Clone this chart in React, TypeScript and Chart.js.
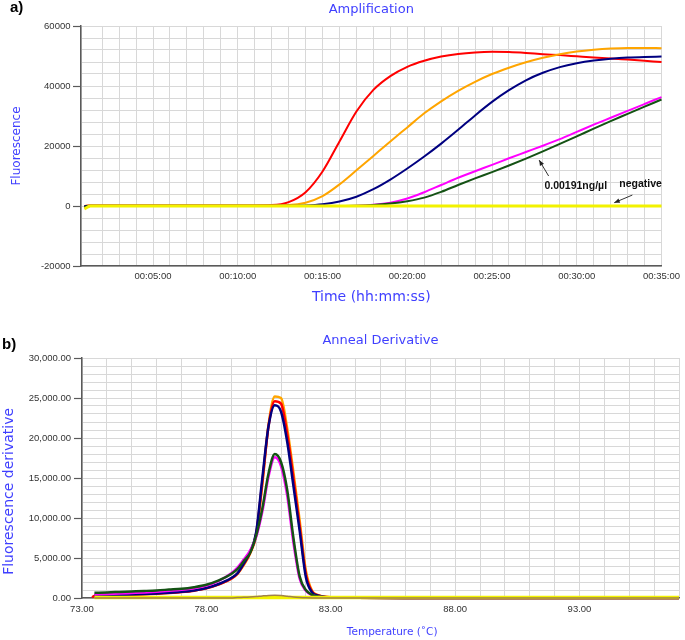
import React, { useEffect, useRef } from 'react';
import { Chart, registerables } from 'chart.js';

Chart.register(...registerables);

// ---------- Panel a) Amplification ----------
const ampTimes = [0.95, 1.3, 2, 3, 4, 5, 6, 7, 8, 9, 10, 11, 12, 13, 14, 15, 16, 17, 18, 19, 20, 21, 22, 23, 24, 25, 26, 27, 28, 29, 30, 31, 32, 33, 34, 35];

const ampRed = [0, 200, 200, 200, 200, 200, 200, 200, 200, 200, 200, 200, 300, 1300, 4600, 11500, 21500, 31500, 38700, 43300, 46400, 48400, 49800, 50700, 51200, 51400, 51300, 51000, 50600, 50300, 49900, 49500, 49200, 48800, 48400, 48000];
const ampOrange = [0, 200, 200, 200, 200, 200, 200, 200, 200, 200, 200, 200, 200, 300, 1100, 3300, 7200, 11900, 16700, 21500, 26200, 30900, 34900, 38400, 41400, 44000, 46100, 47900, 49400, 50600, 51500, 52100, 52500, 52700, 52700, 52600];
const ampNavy = [0, 100, 100, 100, 100, 100, 100, 100, 100, 100, 100, 100, 100, 100, 200, 600, 1500, 3100, 5600, 8800, 12500, 16500, 20800, 25400, 30200, 34700, 38600, 41900, 44400, 46300, 47600, 48500, 49100, 49500, 49700, 49800];
const ampMagenta = [-600, 0, 0, 0, 0, 0, 0, 0, 0, 0, 0, 0, 0, 0, 0, 0, 0, 100, 400, 1100, 2500, 4600, 7000, 9400, 11600, 13700, 15900, 18000, 20100, 22300, 24700, 27100, 29400, 31700, 34000, 36300];
const ampGreen = [-300, 0, 0, 0, 0, 0, 0, 0, 0, 0, 0, 0, 0, 0, 0, 0, 0, 50, 300, 800, 1600, 2800, 4700, 7000, 9200, 11300, 13500, 15800, 18200, 20700, 23200, 25800, 28300, 30700, 33100, 35500];
const ampNegative = [-1000, 0, 0, 0, 0, 0, 0, 0, 0, 0, 0, 0, 0, 0, 0, 0, 0, 0, 0, 0, 0, 0, 0, 0, 0, 0, 0, 0, 0, 0, 0, 0, 0, 0, 0, 0];

const ampNoteTexts = ['0.00191ng/µl', 'negative'];
const ampNoteTextAt = [[29.94, 6700], [33.77, 7300]];
const ampNoteArrowTail = [[28.34, 10000], [33.28, 3650]];
const ampNoteArrowHead = [[27.78, 15300], [32.21, 1100]];

// ---------- Panel b) Anneal Derivative ----------
const meltTemps = [73.4, 73.5, 74, 74.5, 75, 75.5, 76, 76.5, 77, 77.5, 78, 78.5, 79, 79.25, 79.5, 79.75, 80, 80.25, 80.5, 80.75, 81, 81.25, 81.5, 81.75, 82, 82.25, 82.5, 83, 84, 86, 88, 90, 92, 94, 96, 97];

const meltNavy = [null, 300, 340, 380, 430, 490, 560, 650, 770, 950, 1250, 1750, 2500, 3100, 4300, 5700, 8200, 15000, 21500, 24100, 23300, 19500, 14000, 8400, 2600, 700, 300, 80, 30, 0, 0, 0, 0, 0, 0, 0];
const meltOrange = [null, 300, 340, 380, 430, 490, 560, 650, 770, 950, 1250, 1700, 2400, 3000, 4100, 5500, 7800, 14200, 21700, 25200, 25000, 21200, 15700, 9700, 3400, 900, 350, 100, 30, 0, 0, 0, 0, 0, 0, 0];
const meltRed = [100, 250, 300, 350, 400, 460, 530, 620, 740, 920, 1200, 1700, 2400, 3050, 4200, 5600, 8000, 14500, 21500, 24600, 24300, 20500, 15000, 9000, 3000, 800, 320, 90, 30, 0, 0, 0, 0, 0, 0, 0];
const meltGreen = [null, 650, 700, 760, 820, 880, 950, 1050, 1150, 1350, 1650, 2200, 3000, 3600, 4600, 5600, 7800, 11200, 15600, 18000, 17000, 13500, 7500, 2700, 1000, 400, 200, 60, 20, 0, 0, 0, 0, 0, 0, 0];
const meltMagenta = [null, 450, 500, 560, 630, 700, 790, 900, 1030, 1230, 1550, 2150, 3100, 3800, 4800, 5900, 7600, 10800, 15200, 17600, 16500, 12800, 6900, 2400, 900, 350, 150, 50, 20, 0, 0, 0, 0, 0, 0, 0];
const meltNegative = [null, 60, 60, 60, 60, 60, 60, 60, 60, 60, 60, 60, 60, 60, 60, 60, 60, 60, 60, 60, 60, 60, 60, 60, 60, 60, 60, 60, 60, 60, 60, 60, 60, 60, 60, 60];
const meltNegative2 = [null, 0, 0, 0, 0, 0, 0, 0, 0, 0, 0, 0, 0, 50, 80, 120, 180, 260, 320, 330, 300, 220, 120, 60, 20, 0, 0, 0, 0, 0, 0, 0, 0, 0, 0, 0];

// ---------- styles ----------
const BLUE = '#3f3fff';
const GRID = '#d8d8d8';
const AXIS = '#5a5a5a';
const TICK_TXT = '#333333';
const tickFont = { family: "'Liberation Sans', Arial, sans-serif", size: 9.5 };
const dejavu = "'DejaVu Sans', Verdana, sans-serif";
const NB = '\u00A0';

function pts(xs: number[], ys: (number | null)[]) {
  const out: { x: number; y: number }[] = [];
  xs.forEach((x, i) => {
    const y = ys[i];
    if (y !== null && y !== undefined) out.push({ x, y });
  });
  return out;
}

function ds(label: string, xs: number[], ys: (number | null)[], color: string, width: number, extra: any = {}) {
  return {
    label,
    data: pts(xs, ys),
    borderColor: color,
    backgroundColor: color,
    borderWidth: width,
    pointRadius: 0,
    fill: false,
    cubicInterpolationMode: 'monotone',
    clip: false,
    ...extra,
  };
}

const majorTick = (step: number) => (ctx: any) =>
  ctx.tick && Math.abs(ctx.tick.value % step) < 1e-6 ? AXIS : 'rgba(0,0,0,0)';

const notePlugin = {
  id: 'ampNotes',
  afterDatasetsDraw(chart: any) {
    const { ctx } = chart;
    const xs = chart.scales.x;
    const ys = chart.scales.y;
    ctx.save();
    ampNoteTexts.forEach((text, i) => {
      const tx = xs.getPixelForValue(ampNoteArrowTail[i][0]);
      const ty = ys.getPixelForValue(ampNoteArrowTail[i][1]);
      const hx = xs.getPixelForValue(ampNoteArrowHead[i][0]);
      const hy = ys.getPixelForValue(ampNoteArrowHead[i][1]);
      ctx.strokeStyle = '#333';
      ctx.fillStyle = '#222';
      ctx.lineWidth = 1;
      ctx.beginPath();
      ctx.moveTo(tx, ty);
      ctx.lineTo(hx, hy);
      ctx.stroke();
      const a = Math.atan2(hy - ty, hx - tx);
      const s = 6;
      ctx.beginPath();
      ctx.moveTo(hx, hy);
      ctx.lineTo(hx - s * Math.cos(a - 0.4), hy - s * Math.sin(a - 0.4));
      ctx.lineTo(hx - s * Math.cos(a + 0.4), hy - s * Math.sin(a + 0.4));
      ctx.closePath();
      ctx.fill();
      ctx.fillStyle = '#111';
      ctx.font = "bold 10.5px 'Liberation Sans', Arial, sans-serif";
      ctx.textAlign = 'center';
      ctx.textBaseline = 'middle';
      ctx.fillText(text, xs.getPixelForValue(ampNoteTextAt[i][0]), ys.getPixelForValue(ampNoteTextAt[i][1]));
    });
    ctx.restore();
  },
};

const fmtTime = (v: number) => `00:${String(v).padStart(2, '0')}:00`;

export default function App() {
  const aRef = useRef<HTMLCanvasElement>(null);
  const bRef = useRef<HTMLCanvasElement>(null);

  useEffect(() => {
    const ca = new Chart(aRef.current as HTMLCanvasElement, {
      type: 'line',
      data: {
        datasets: [
          ds('negative', ampTimes, ampNegative, '#f2f200', 3),
          ds('0.00191ng/µl', ampTimes, ampGreen, '#145214', 2),
          ds('magenta', ampTimes, ampMagenta, '#ff00ff', 2),
          ds('navy', ampTimes, ampNavy, '#000080', 2),
          ds('orange', ampTimes, ampOrange, '#ffa500', 2),
          ds('red', ampTimes, ampRed, '#ff0000', 2),
        ] as any,
      },
      options: {
        responsive: false,
        animation: false,
        events: [],
        layout: { padding: { left: 0, right: 19, top: 0, bottom: 0 } },
        plugins: {
          legend: { display: false },
          tooltip: { enabled: false },
          title: {
            display: true,
            text: 'Amplification',
            fullSize: false,
            color: BLUE,
            font: { family: dejavu, size: 13, weight: 'normal' },
            padding: { top: 2, bottom: 8.4 },
          },
        },
        scales: {
          x: {
            type: 'linear',
            min: 0.75,
            max: 35,
            afterFit: (s: any) => { s.height = 44; },
            border: { color: AXIS, width: 1.5 },
            grid: { color: GRID, lineWidth: 1, drawTicks: false },
            ticks: {
              stepSize: 1,
              autoSkip: false,
              maxRotation: 0,
              padding: 5,
              color: TICK_TXT,
              font: tickFont,
              callback: (v: any) => (Math.abs(v % 5) < 1e-6 && v > 0 ? fmtTime(v) : ''),
            },
            title: {
              display: true,
              text: 'Time (hh:mm:ss)',
              color: BLUE,
              font: { family: dejavu, size: 14 },
              padding: { top: 0, bottom: 4.6 },
            },
          },
          y: {
            type: 'linear',
            min: -20000,
            max: 60000,
            afterFit: (s: any) => { s.width = 81; },
            border: { color: AXIS, width: 1.5 },
            grid: { color: GRID, lineWidth: 1, drawTicks: true, tickLength: 8, tickColor: majorTick(20000), tickWidth: 1.2 },
            ticks: {
              stepSize: 4000,
              autoSkip: false,
              padding: 2.5,
              color: TICK_TXT,
              font: tickFont,
              callback: (v: any) => (Math.abs(v % 20000) < 1e-6 ? String(v) : ''),
            },
            title: {
              display: true,
              text: 'Fluorescence',
              color: BLUE,
              font: { family: dejavu, size: 12 },
              padding: { top: 9.8, bottom: 0 },
            },
          },
        },
      } as any,
      plugins: [notePlugin],
    });

    const cb = new Chart(bRef.current as HTMLCanvasElement, {
      type: 'line',
      data: {
        datasets: [
          ds('negative 2', meltTemps, meltNegative2, '#a0804a', 1.5),
          ds('negative', meltTemps, meltNegative, '#f2f200', 3.5),
          ds('0.00191ng/µl', meltTemps, meltGreen, '#145214', 2.5),
          ds('magenta', meltTemps, meltMagenta, '#ff00ff', 2.5),
          ds('navy', meltTemps, meltNavy, '#000080', 2.5),
          ds('red', meltTemps, meltRed, '#ff0000', 2.5),
          ds('orange', meltTemps, meltOrange, '#ffa500', 2.5),
        ] as any,
      },
      options: {
        responsive: false,
        animation: false,
        events: [],
        layout: { padding: { left: 0, right: 5, top: 0, bottom: 0 } },
        plugins: {
          legend: { display: false },
          tooltip: { enabled: false },
          title: {
            display: true,
            text: 'Anneal Derivative',
            fullSize: false,
            color: BLUE,
            font: { family: dejavu, size: 13, weight: 'normal' },
            padding: { top: 23.2, bottom: 9.2 },
          },
        },
        scales: {
          x: {
            type: 'linear',
            min: 73,
            max: 97,
            afterFit: (s: any) => { s.height = 42; },
            border: { color: AXIS, width: 1.5 },
            grid: { color: GRID, lineWidth: 1, drawTicks: false },
            ticks: {
              stepSize: 1,
              autoSkip: false,
              maxRotation: 0,
              padding: 6,
              color: TICK_TXT,
              font: tickFont,
              callback: (v: any) => (Math.abs((v - 73) % 5) < 1e-6 ? Number(v).toFixed(2) : ''),
            },
            title: {
              display: true,
              text: NB.repeat(7) + 'Temperature (˚C)',
              color: BLUE,
              font: { family: dejavu, size: 10.5 },
              padding: { top: 0, bottom: 1.7 },
            },
          },
          y: {
            type: 'linear',
            min: 0,
            max: 30000,
            afterFit: (s: any) => { s.width = 82; },
            border: { color: AXIS, width: 1.5 },
            grid: { color: GRID, lineWidth: 1, drawTicks: true, tickLength: 8, tickColor: majorTick(5000), tickWidth: 1.2 },
            ticks: {
              stepSize: 1000,
              autoSkip: false,
              padding: 3,
              color: TICK_TXT,
              font: tickFont,
              callback: (v: any) =>
                Math.abs(v % 5000) < 1e-6
                  ? Number(v).toLocaleString('en-US', { minimumFractionDigits: 2, maximumFractionDigits: 2 })
                  : '',
            },
            title: {
              display: true,
              text: 'Fluorescence derivative' + NB.repeat(6),
              color: BLUE,
              font: { family: dejavu, size: 14 },
              padding: { top: 0.5, bottom: 0 },
            },
          },
        },
      } as any,
    });

    return () => {
      ca.destroy();
      cb.destroy();
    };
  }, []);

  const panelLabel: React.CSSProperties = {
    position: 'absolute',
    font: "bold 15px 'Liberation Sans', Arial, sans-serif",
    lineHeight: '18px',
    color: '#000',
  };

  return (
    <div style={{ position: 'absolute', left: 0, top: 0, width: 685, height: 640, background: '#fff', overflow: 'hidden' }}>
      <canvas ref={aRef} width={685} height={310} style={{ position: 'absolute', left: 0, top: 0 }} />
      <canvas ref={bRef} width={685} height={330} style={{ position: 'absolute', left: 0, top: 310 }} />
      <div style={{ ...panelLabel, left: 10, top: -2 }}>a)</div>
      <div style={{ ...panelLabel, left: 2, top: 335 }}>b)</div>
    </div>
  );
}
